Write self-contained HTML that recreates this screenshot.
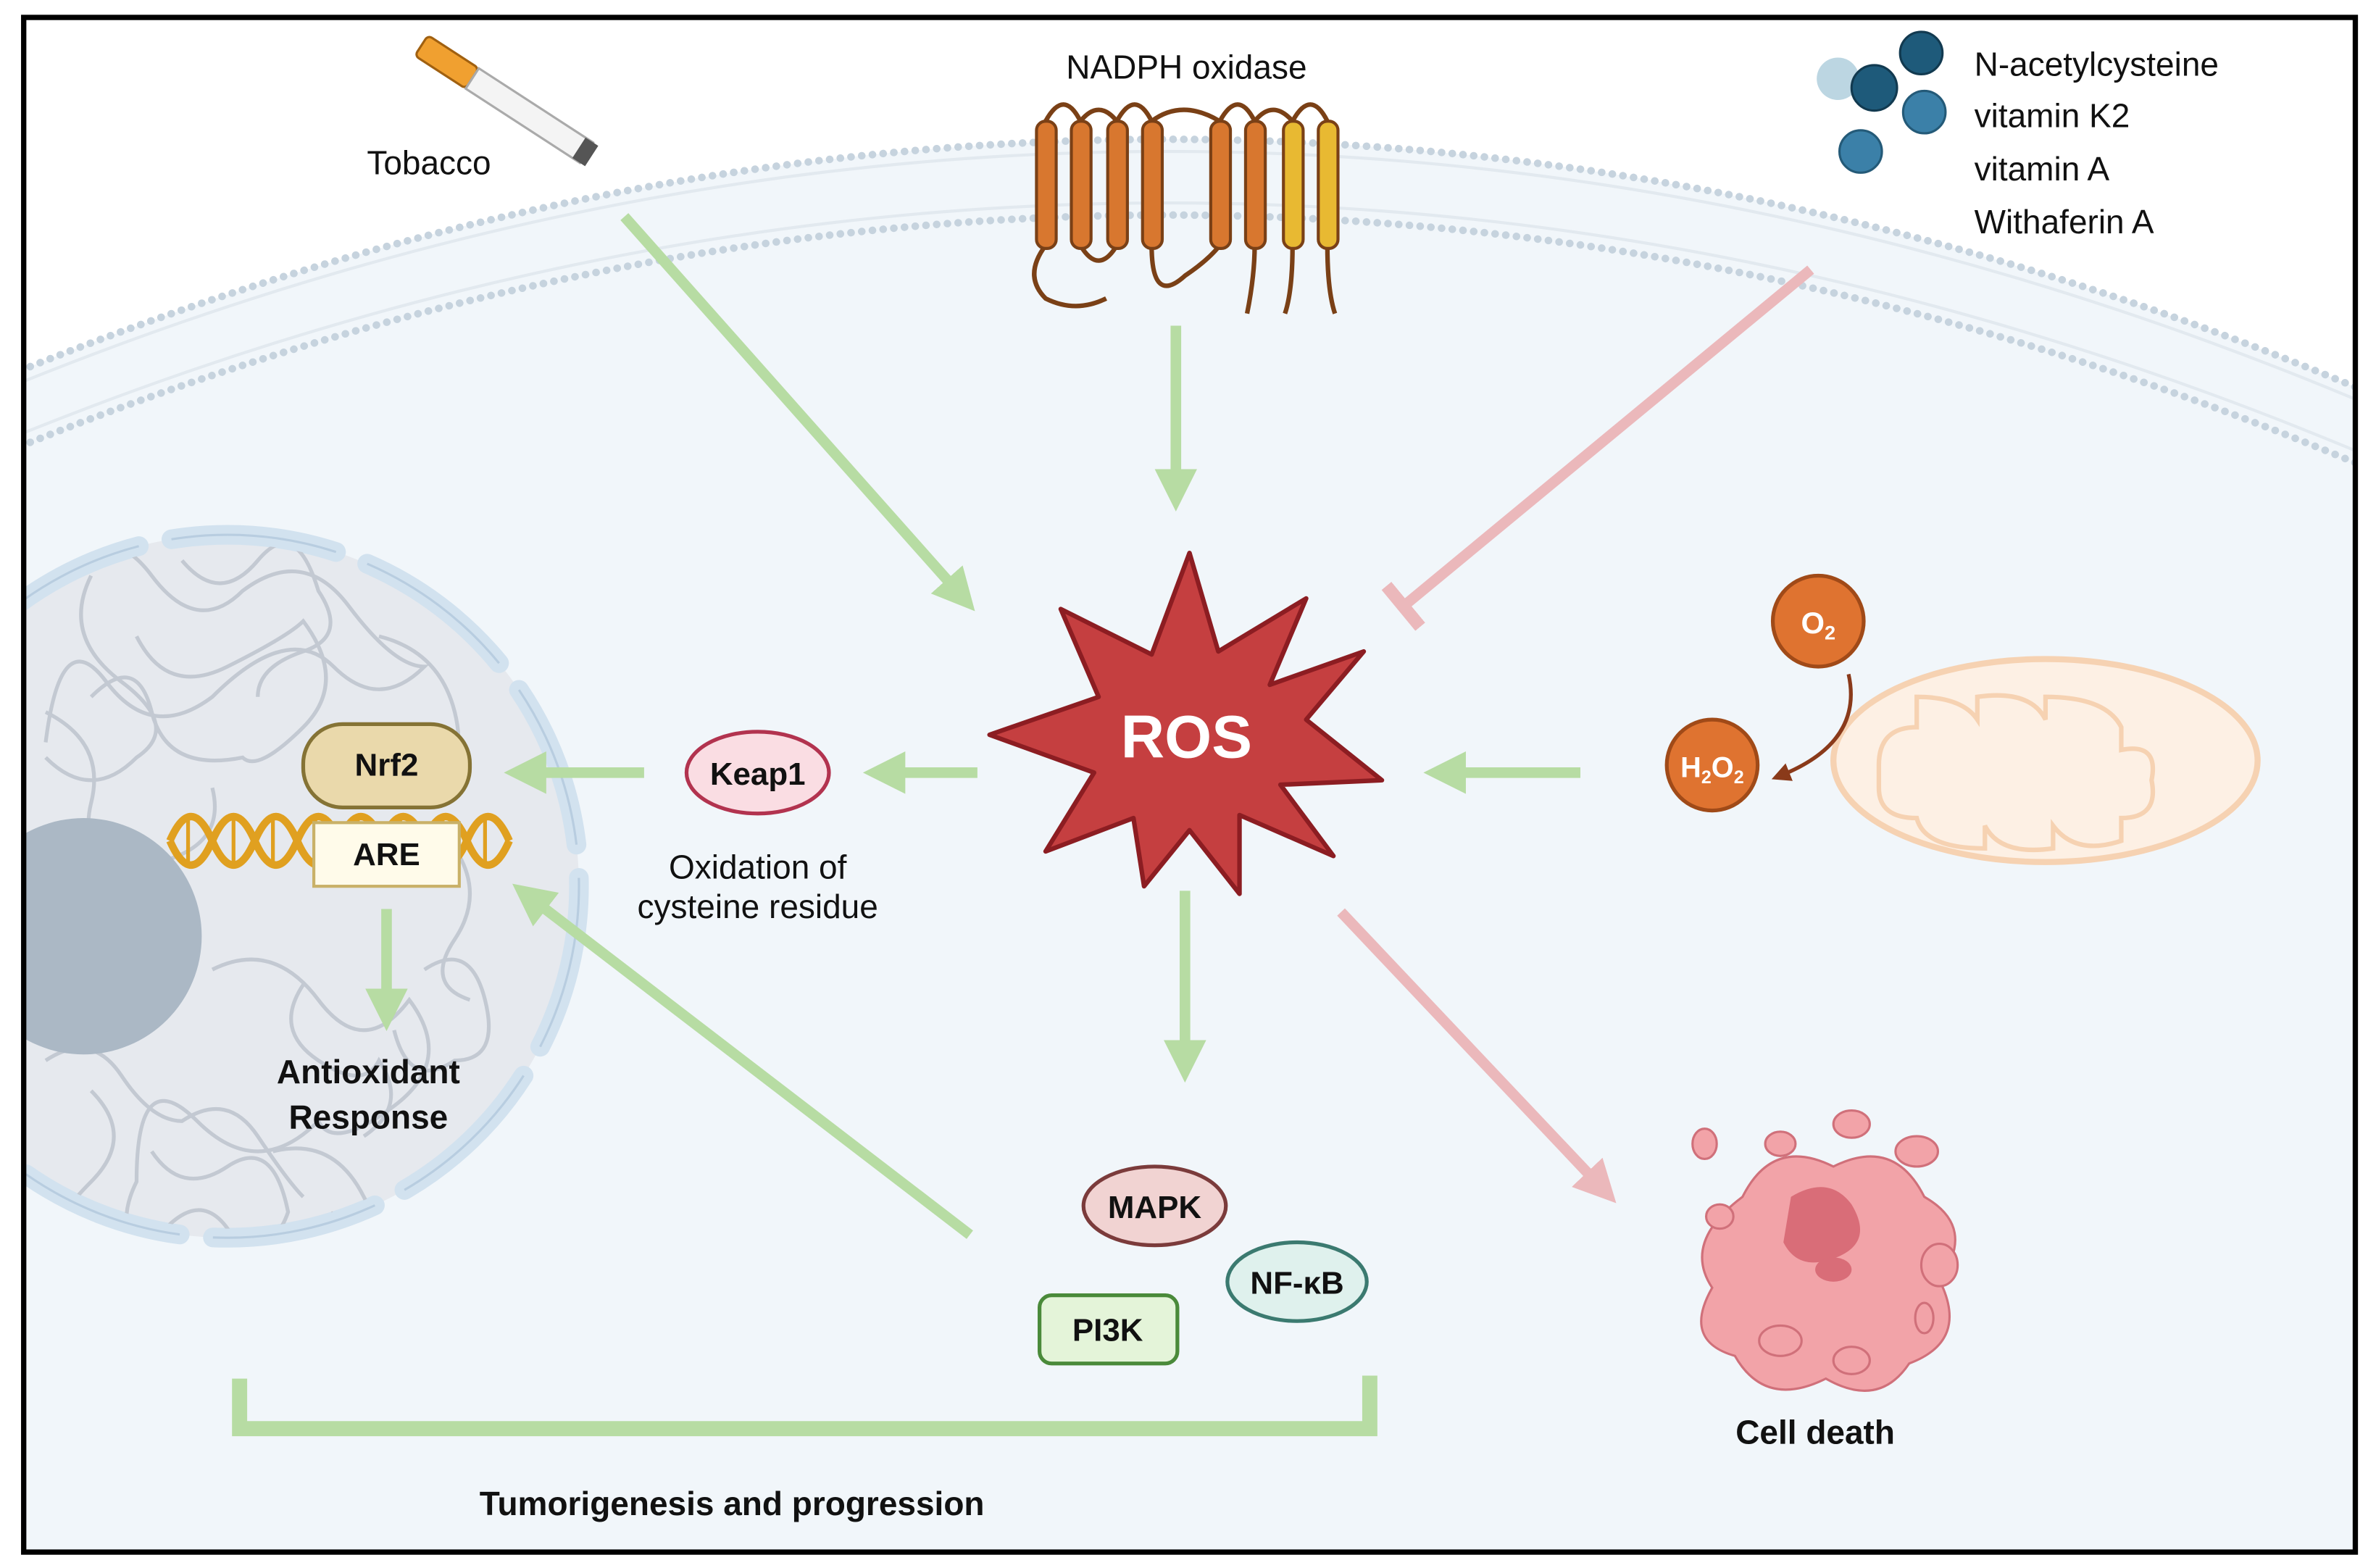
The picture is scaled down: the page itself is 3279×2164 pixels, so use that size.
<!DOCTYPE html>
<html><head><meta charset="utf-8"><style>
html,body{margin:0;padding:0;background:#fff;}
svg{display:block;}
text{font-family:"Liberation Sans",sans-serif;}
</style></head><body>
<svg width="3279" height="2164" viewBox="0 0 1568 1035" xmlns="http://www.w3.org/2000/svg">
<defs>
<marker id="ga" markerWidth="4" markerHeight="4" refX="2.2" refY="2" orient="auto" markerUnits="strokeWidth"><path d="M0,0 L4,2 L0,4 z" fill="#b7dca3"/></marker>
<marker id="pa" markerWidth="4" markerHeight="4" refX="2.2" refY="2" orient="auto" markerUnits="strokeWidth"><path d="M0,0 L4,2 L0,4 z" fill="#ebb8bb"/></marker>
<marker id="pt" markerWidth="2" markerHeight="5" refX="1" refY="2.5" orient="auto" markerUnits="strokeWidth"><rect x="0" y="0" width="1.2" height="5" fill="#ebb8bb"/></marker>
<marker id="ba" markerWidth="5" markerHeight="5" refX="2.5" refY="2.5" orient="auto" markerUnits="strokeWidth"><path d="M0,0 L5,2.5 L0,5 z" fill="#8a3a1a"/></marker>
<clipPath id="frame"><rect x="16" y="12" width="1538" height="1012"/></clipPath>
<clipPath id="nuc"><circle cx="150" cy="585" r="226"/></clipPath>
</defs>
<rect x="0" y="0" width="1568" height="1035" fill="#fff"/>
<g clip-path="url(#frame)">
<path d="M0,250 Q785,-72 1570,262 L1570,1040 L0,1040 z" fill="#f1f6fa"/>
<path d="M0,250 Q785,-72 1570,262" fill="none" stroke="#c6d3de" stroke-width="5" stroke-dasharray="0.1 7" stroke-linecap="round"/>
<path d="M0,300 Q785,-22 1570,312" fill="none" stroke="#c6d3de" stroke-width="5" stroke-dasharray="0.1 7" stroke-linecap="round"/>
<path d="M0,258 Q785,-64 1570,270" fill="none" stroke="#e2e9ef" stroke-width="2"/>
<path d="M0,292 Q785,-30 1570,304" fill="none" stroke="#e2e9ef" stroke-width="2"/>
<circle cx="150" cy="585" r="232" fill="#e6e9ee"/>
<circle cx="150" cy="585" r="232" fill="none" stroke="#d2e2ef" stroke-width="13" stroke-dasharray="110 22" stroke-linecap="round"/>
<circle cx="150" cy="585" r="232" fill="none" stroke="#b8cde0" stroke-width="1.5" stroke-dasharray="110 22"/>
<g fill="none" stroke="#c3c9d2" stroke-width="2.5" clip-path="url(#nuc)">
<path d="M40,380 q30,-40 60,0 t60,10 q40,-30 70,10 t50,40 q-30,30 -60,0 t-80,20 q-40,30 -70,-10 t-40,40"/>
<path d="M90,420 q20,40 60,20 t50,-30 q30,40 0,70 t-40,20 q-50,10 -60,-30 t-40,-10"/>
<path d="M30,470 q40,20 30,60 t40,40 q50,-10 40,-50"/>
<path d="M140,640 q40,-20 70,20 t60,0 q30,40 -10,70 t-50,10 q-40,40 -80,0 t-40,40 q-20,40 20,60 t60,-10 q30,30 0,60"/>
<path d="M60,720 q30,30 0,60 t-20,40 q40,20 70,-10 t50,20 q40,10 60,-30"/>
<path d="M250,420 q40,10 50,50 t-20,60"/>
<path d="M180,760 q40,-10 60,30 t50,-20"/>
<path d="M280,640 q30,-20 40,20 t-20,40 q-30,20 -40,-20"/>
<path d="M60,380 q-20,40 20,70 t10,50 q-30,30 -60,0"/>
<path d="M120,370 q25,30 50,0 t40,20 q20,30 -10,40 t-30,30"/>
<path d="M30,700 q30,-20 50,10 t40,30 q30,-20 50,10 t30,40"/>
<path d="M200,650 q-20,30 10,50 t40,0 q20,30 -10,50"/>
<path d="M100,760 q20,30 50,10 t40,30 q-10,30 -40,20"/>
<path d="M300,560 q20,30 0,60 t10,40"/>
</g>
<circle cx="55" cy="618" r="78" fill="#abb8c5"/>
</g>
<g fill="none" stroke="#e0a020" stroke-width="5">
<path d="M112,555 q14,-32 28,0 t28,0 t28,0 t28,0 t28,0 t28,0 t28,0 t28,0"/>
<path d="M112,555 q14,32 28,0 t28,0 t28,0 t28,0 t28,0 t28,0 t28,0 t28,0"/>
</g>
<g stroke="#e0a020" stroke-width="2.5"><path d="M124,540v30M154,540v30M180,540v30M208,540v30M236,540v30M264,540v30M292,540v30M320,540v30"/></g>
<rect x="207" y="543" width="96" height="42" fill="#fffbea" stroke="#c9b168" stroke-width="2"/>
<text x="255" y="571" font-size="21" font-weight="bold" text-anchor="middle" fill="#111">ARE</text>
<rect x="200" y="478" width="110" height="55" rx="26" fill="#ead9ab" stroke="#857335" stroke-width="2.5"/>
<text x="255" y="512" font-size="21" font-weight="bold" text-anchor="middle" fill="#111">Nrf2</text>
<g stroke-width="7" fill="none">
<line x1="412" y1="143" x2="635" y2="394" stroke="#b7dca3" marker-end="url(#ga)"/>
<line x1="776" y1="215" x2="776" y2="325" stroke="#b7dca3" marker-end="url(#ga)"/>
<line x1="1195" y1="178" x2="924" y2="402" stroke="#ebb8bb" marker-end="url(#pt)"/>
<line x1="1043" y1="510" x2="952" y2="510" stroke="#b7dca3" marker-end="url(#ga)"/>
<line x1="645" y1="510" x2="582" y2="510" stroke="#b7dca3" marker-end="url(#ga)"/>
<line x1="425" y1="510" x2="345" y2="510" stroke="#b7dca3" marker-end="url(#ga)"/>
<line x1="782" y1="588" x2="782" y2="702" stroke="#b7dca3" marker-end="url(#ga)"/>
<line x1="885" y1="602" x2="1058" y2="785" stroke="#ebb8bb" marker-end="url(#pa)"/>
<line x1="640" y1="815" x2="348" y2="591" stroke="#b7dca3" marker-end="url(#ga)"/>
<line x1="255" y1="600" x2="255" y2="668" stroke="#b7dca3" marker-end="url(#ga)"/>
<path d="M158,910 V943 H904 V908" stroke="#b7dca3" stroke-width="10"/>
</g>
<polygon points="785,365 804,430 862,395 838,452 900,430 862,475 912,515 845,518 880,565 818,538 818,590 785,548 755,585 748,540 690,562 722,510 653,485 725,460 700,402 760,432" fill="#c53f40" stroke="#8c1d22" stroke-width="3" stroke-linejoin="round"/>
<text x="783" y="500" font-size="40" font-weight="bold" text-anchor="middle" fill="#fff">ROS</text>
<ellipse cx="500" cy="510" rx="47" ry="27" fill="#fadde3" stroke="#b2334f" stroke-width="2.5"/>
<text x="500" y="518" font-size="21" font-weight="bold" text-anchor="middle" fill="#111">Keap1</text>
<text x="500" y="580" font-size="22" text-anchor="middle" fill="#111">Oxidation of</text>
<text x="500" y="606" font-size="22" text-anchor="middle" fill="#111">cysteine residue</text>
<text x="243" y="715" font-size="22" font-weight="bold" text-anchor="middle" fill="#111">Antioxidant</text>
<text x="243" y="745" font-size="22" font-weight="bold" text-anchor="middle" fill="#111">Response</text>
<ellipse cx="762" cy="796" rx="47" ry="26" fill="#f1d3d2" stroke="#7b3b3b" stroke-width="2.5"/>
<text x="762" y="804" font-size="21" font-weight="bold" text-anchor="middle" fill="#111">MAPK</text>
<ellipse cx="856" cy="846" rx="46" ry="26" fill="#dff1ed" stroke="#3b7a70" stroke-width="2.5"/>
<text x="856" y="854" font-size="21" font-weight="bold" text-anchor="middle" fill="#111">NF-κB</text>
<rect x="686" y="855" width="91" height="45" rx="8" fill="#e4f4d9" stroke="#4a8a3a" stroke-width="2.5"/>
<text x="731" y="885" font-size="21" font-weight="bold" text-anchor="middle" fill="#111">PI3K</text>
<text x="483" y="1000" font-size="22" font-weight="bold" text-anchor="middle" fill="#111">Tumorigenesis and progression</text>
<g fill="#f2a3a8" stroke="#d0707a" stroke-width="1.5">
<path d="M1150,790 q20,-40 60,-20 q40,-20 60,20 q35,20 10,55 q20,40 -20,55 q-20,30 -55,10 q-40,20 -60,-15 q-35,-10 -15,-45 q-20,-30 20,-60z"/>
<ellipse cx="1125" cy="755" rx="8" ry="10"/><ellipse cx="1175" cy="755" rx="10" ry="8"/><ellipse cx="1222" cy="742" rx="12" ry="9"/>
<ellipse cx="1265" cy="760" rx="14" ry="10"/><ellipse cx="1135" cy="803" rx="9" ry="8"/><ellipse cx="1280" cy="835" rx="12" ry="14"/>
<ellipse cx="1270" cy="870" rx="6" ry="10"/><ellipse cx="1175" cy="885" rx="14" ry="10"/><ellipse cx="1222" cy="898" rx="12" ry="9"/>
</g>
<path d="M1182,790 q25,-15 40,5 q15,25 -10,35 q-25,10 -35,-10z" fill="#d96d78"/>
<ellipse cx="1210" cy="838" rx="12" ry="8" fill="#d96d78"/>
<text x="1198" y="953" font-size="22" font-weight="bold" text-anchor="middle" fill="#111">Cell death</text>
<ellipse cx="1350" cy="502" rx="140" ry="67" fill="#fdf0e4" stroke="#f6d2b2" stroke-width="4"/>
<path d="M1240,505 q0,-25 25,-25 v-20 q30,0 40,15 v-15 q35,-5 45,15 v-15 q40,0 50,20 v15 q25,-5 20,20 q5,25 -20,25 v15 q-30,10 -45,-10 v15 q-35,5 -45,-15 v15 q-40,0 -45,-20 q-25,0 -25,-20z" fill="none" stroke="#f6d2b2" stroke-width="3"/>
<path d="M1220,445 Q1230,490 1175,512" fill="none" stroke="#8a3a1a" stroke-width="2.5" marker-end="url(#ba)"/>
<circle cx="1200" cy="410" r="30" fill="#df7330" stroke="#a04a18" stroke-width="2.5"/>
<text x="1200" y="418" font-size="20" font-weight="bold" text-anchor="middle" fill="#fff">O<tspan font-size="13" dy="4">2</tspan></text>
<circle cx="1130" cy="505" r="30" fill="#df7330" stroke="#a04a18" stroke-width="2.5"/>
<text x="1130" y="513" font-size="19" font-weight="bold" text-anchor="middle" fill="#fff">H<tspan font-size="12" dy="4">2</tspan><tspan dy="-4">O</tspan><tspan font-size="12" dy="4">2</tspan></text>
<text x="783" y="52" font-size="22" text-anchor="middle" fill="#111">NADPH oxidase</text>
<g fill="none" stroke="#7a4016" stroke-width="3">
<path d="M690,80 q12,-22 23,0 M737,80 q12,-22 23,0 M805,80 q12,-22 23,0 M853,80 q12,-22 23,0"/>
<path d="M690,162 q-15,20 0,35 q20,10 40,0 M713,162 q12,20 24,0 M760,162 q0,40 22,20 q15,-10 23,-20 M828,162 q0,20 -5,45 M853,162 q0,30 -5,45 M876,162 q0,30 5,45"/>
<path d="M713,80 q12,-15 24,0 M760,80 q20,-15 45,0 M828,80 q12,-15 25,0" />
</g>
<g stroke-width="2">
<rect x="684" y="80" width="13" height="84" rx="6" fill="#d8772f" stroke="#7a4016"/>
<rect x="707" y="80" width="13" height="84" rx="6" fill="#d8772f" stroke="#7a4016"/>
<rect x="731" y="80" width="13" height="84" rx="6" fill="#d8772f" stroke="#7a4016"/>
<rect x="754" y="80" width="13" height="84" rx="6" fill="#d8772f" stroke="#7a4016"/>
<rect x="799" y="80" width="13" height="84" rx="6" fill="#d8772f" stroke="#7a4016"/>
<rect x="822" y="80" width="13" height="84" rx="6" fill="#d8772f" stroke="#7a4016"/>
<rect x="847" y="80" width="13" height="84" rx="6" fill="#e8b932" stroke="#7a4016"/>
<rect x="870" y="80" width="13" height="84" rx="6" fill="#e8b932" stroke="#7a4016"/>
</g>
<g transform="translate(278,30) rotate(33)">
<rect x="0" y="-8" width="40" height="16" rx="3" fill="#f0a030" stroke="#a06010" stroke-width="1.5"/>
<rect x="40" y="-8" width="90" height="16" fill="#f4f4f4" stroke="#aaa" stroke-width="1.5"/>
<rect x="124" y="-8" width="10" height="16" fill="#555"/>
</g>
<text x="283" y="115" font-size="22" text-anchor="middle" fill="#111">Tobacco</text>
<circle cx="1213" cy="52" r="14" fill="#bcd6e2"/>
<circle cx="1237" cy="58" r="15" fill="#1e5a7a" stroke="#123a50" stroke-width="1.5"/>
<circle cx="1268" cy="35" r="14" fill="#1e5a7a" stroke="#123a50" stroke-width="1.5"/>
<circle cx="1270" cy="74" r="14" fill="#3b80a8" stroke="#245a78" stroke-width="1.5"/>
<circle cx="1228" cy="100" r="14" fill="#3b80a8" stroke="#245a78" stroke-width="1.5"/>
<g font-size="22" fill="#111">
<text x="1303" y="50">N-acetylcysteine</text>
<text x="1303" y="84">vitamin K2</text>
<text x="1303" y="119">vitamin A</text>
<text x="1303" y="154">Withaferin A</text>
</g>
<rect x="15.5" y="11.5" width="1539" height="1013" fill="none" stroke="#000" stroke-width="3.5"/>
</svg>
</body></html>
